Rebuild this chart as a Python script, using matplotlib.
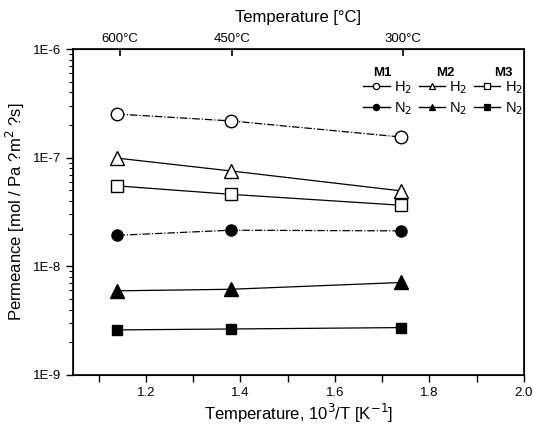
import matplotlib
matplotlib.use("Agg")
import matplotlib.pyplot as plt
from matplotlib.ticker import FixedLocator, LogLocator, NullFormatter, MultipleLocator
from matplotlib.lines import Line2D

plt.rcParams['font.family'] = ['Liberation Sans', 'DejaVu Sans']

x = [1.14, 1.38, 1.74]
h2_m1 = [2.52e-7, 2.18e-7, 1.55e-7]
h2_m2 = [9.9e-8, 7.55e-8, 4.95e-8]
h2_m3 = [5.5e-8, 4.6e-8, 3.65e-8]
n2_m1 = [1.93e-8, 2.15e-8, 2.12e-8]
n2_m2 = [5.95e-9, 6.15e-9, 7.1e-9]
n2_m3 = [2.6e-9, 2.65e-9, 2.73e-9]
top_temps_c = [600, 450, 300]
top_labels = ["600°C", "450°C", "300°C"]
yticks = [1e-9, 1e-8, 1e-7, 1e-6]
ylabels = ["1E-9", "1E-8", "1E-7", "1E-6"]

fig = plt.figure(figsize=(5.33, 4.34), dpi=100)
ax = fig.add_axes([0.137, 0.136, 0.846, 0.751])

dashdot = (0, (6, 1.5, 1, 1.5))
series = [
    (h2_m1, 'o', 'white', dashdot, 9, "H$_2$"),
    (n2_m1, 'o', 'black', dashdot, 8, "N$_2$"),
    (h2_m2, '^', 'white', '-', 10, "H$_2$"),
    (n2_m2, '^', 'black', '-', 10, "N$_2$"),
    (h2_m3, 's', 'white', '-', 8, "H$_2$"),
    (n2_m3, 's', 'black', '-', 7.5, "N$_2$"),
]
handles = []
for ys, m, fc, ls, ms, lab in series:
    ax.plot(x, ys, marker=m, mfc=fc, mec='black', color='black', ls=ls, lw=0.9,
            ms=ms, mew=1.0)
    handles.append(Line2D([], [], marker=m, mfc=fc, mec='black', color='black',
                          ls='-', lw=1.0, ms=4.5, mew=0.9, label=lab))

ax.set_yscale('log')
ax.set_xlim(1.046, 2.0)
ax.set_ylim(1e-9, 1e-6)
ax.set_yticks(yticks)
ax.set_yticklabels(ylabels)
ax.yaxis.set_minor_locator(LogLocator(base=10, subs=range(2, 10)))
ax.yaxis.set_minor_formatter(NullFormatter())
ax.xaxis.set_major_locator(MultipleLocator(0.2))
ax.xaxis.set_minor_locator(MultipleLocator(0.1))
ax.tick_params(axis='both', which='major', labelsize=9.5, length=5, width=1, direction='out')
ax.tick_params(axis='both', which='minor', length=3, width=0.8, direction='out')
ax.tick_params(axis='x', which='minor', length=5, width=1)
ax.tick_params(top=False, right=False)
for s in ax.spines.values():
    s.set_linewidth(1.2)

ax.set_xlabel("Temperature, 10$^3$/T [K$^{-1}$]", fontsize=12, labelpad=2)
ax.set_ylabel("Permeance [mol / Pa ?m$^2$ ?s]", fontsize=12, labelpad=4)

ax2 = ax.twiny()
ax2.set_xlim(ax.get_xlim())
ax2.set_xticks([1000.0 / (t + 273.15) for t in top_temps_c])
ax2.set_xticklabels(top_labels)
ax2.tick_params(axis='x', direction='in', length=5, width=1.2, labelsize=9.5, pad=3)
ax2.set_xlabel("Temperature [°C]", fontsize=12, labelpad=8)

leg = ax.legend(handles=handles, ncol=3, loc='upper right', bbox_to_anchor=(1.01, 0.925),
                frameon=False, fontsize=10.5, handlelength=1.8, handletextpad=0.3,
                columnspacing=0.45, labelspacing=0.3, borderaxespad=0.0)
for txt, xa in [("M1", 0.685), ("M2", 0.825), ("M3", 0.955)]:
    ax.text(xa, 0.928, txt, transform=ax.transAxes, fontsize=9.5, fontweight='bold',
            ha='center', va='center')

fig.savefig("out.png", dpi=100)
